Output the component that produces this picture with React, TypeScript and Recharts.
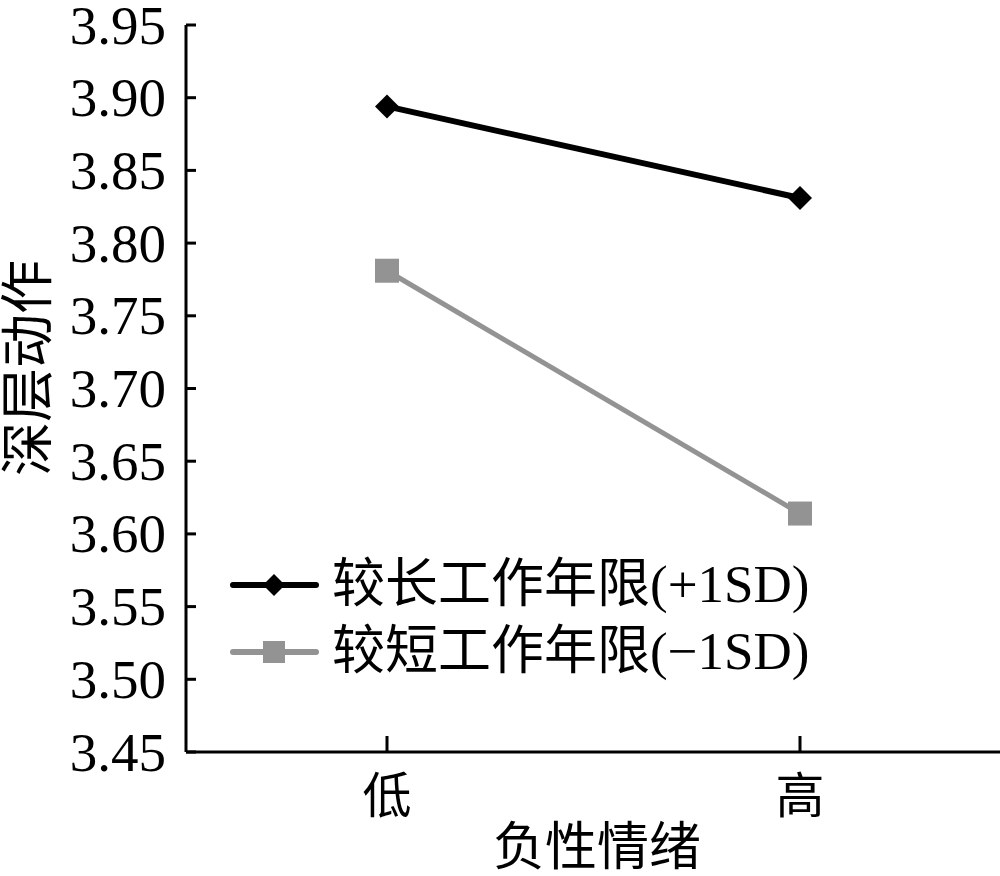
import { LineChart, Line, XAxis, YAxis, Legend } from "recharts";

const categories = ["低", "高"];
const longTenure = [3.894, 3.831];
const shortTenure = [3.781, 3.614];
const yTicks = [3.45, 3.5, 3.55, 3.6, 3.65, 3.7, 3.75, 3.8, 3.85, 3.9, 3.95];

const longName = "较长工作年限(+1SD)";
const shortName = "较短工作年限(−1SD)";

const data = categories.map((c, i) => ({
  cat: c,
  long: longTenure[i],
  short: shortTenure[i],
}));

const FONT = "'Liberation Serif', 'Noto Sans CJK SC', serif";
const GRAY = "#939393";

const YTick = (props: any) => {
  const { x, y, payload } = props;
  return (
    <g>
      <line x1={x} x2={x + 10} y1={y} y2={y} stroke="#000" strokeWidth={3} />
      <text x={x - 20} y={y} textAnchor="end" dominantBaseline="central" fontSize={55} fontFamily={FONT} fill="#000">
        {Number(payload.value).toFixed(2)}
      </text>
    </g>
  );
};

const XTick = (props: any) => {
  const { x, y, payload } = props;
  return (
    <g>
      <line x1={x} x2={x} y1={y} y2={y - 16} stroke="#000" strokeWidth={3} />
      <text x={x} y={y + 44} textAnchor="middle" dominantBaseline="central" fontSize={49} fontFamily={FONT} fill="#000">
        {payload.value}
      </text>
    </g>
  );
};

const Diamond = (props: any) => {
  const { cx, cy } = props;
  if (cx == null || cy == null) return null;
  const r = 12;
  return <polygon points={`${cx},${cy - r} ${cx + r},${cy} ${cx},${cy + r} ${cx - r},${cy}`} fill="#000" />;
};

const Square = (props: any) => {
  const { cx, cy } = props;
  if (cx == null || cy == null) return null;
  const s = 12;
  return <rect x={cx - s} y={cy - s} width={s * 2} height={s * 2} fill={GRAY} />;
};

const LegendBox = () => (
  <div style={{ fontFamily: FONT, fontSize: 53, lineHeight: "67px", color: "#000" }}>
    <div style={{ display: "flex", alignItems: "center" }}>
      <svg width={90} height={30}>
        <line x1={3} x2={86} y1={15} y2={15} stroke="#000" strokeWidth={6} strokeLinecap="round" />
        <polygon points="44,4 55,15 44,26 33,15" fill="#000" />
      </svg>
      <span style={{ marginLeft: 12 }}>{longName}</span>
    </div>
    <div style={{ display: "flex", alignItems: "center" }}>
      <svg width={90} height={30}>
        <line x1={3} x2={86} y1={15} y2={15} stroke={GRAY} strokeWidth={6} strokeLinecap="round" />
        <rect x={33} y={4} width={22} height={22} fill={GRAY} />
      </svg>
      <span style={{ marginLeft: 12 }}>{shortName}</span>
    </div>
  </div>
);

export default function App() {
  return (
    <div style={{ position: "absolute", left: 0, top: 0, background: "#fff" }}>
      <LineChart width={1000} height={876} data={data} margin={{ top: 25, right: 0, bottom: 0, left: 0 }}>
        <XAxis
          dataKey="cat"
          height={124}
          padding={{ left: 201, right: 200 }}
          axisLine={{ stroke: "#000", strokeWidth: 3 }}
          tickLine={false}
          tickSize={0}
          tickMargin={0}
          tick={<XTick />}
          label={{
            content: () => (
              <text x={597} y={847} textAnchor="middle" dominantBaseline="central" fontSize={52} fontFamily={FONT} fill="#000">
                负性情绪
              </text>
            ),
          }}
        />
        <YAxis
          width={186}
          domain={[3.45, 3.95]}
          ticks={yTicks}
          interval={0}
          axisLine={{ stroke: "#000", strokeWidth: 3 }}
          tickLine={false}
          tickSize={0}
          tickMargin={0}
          tick={<YTick />}
          label={{
            content: () => (
              <text x={29} y={368} transform="rotate(-90 29 368)" textAnchor="middle" dominantBaseline="central" fontSize={54} fontFamily={FONT} fill="#000">
                深层动作
              </text>
            ),
          }}
        />
        <Legend
          layout="horizontal"
          verticalAlign="middle"
          align="center"
          content={<LegendBox />}
          wrapperStyle={{ left: 230, top: 551, width: 680 }}
        />
        <Line
          type="linear"
          dataKey="long"
          name={longName}
          stroke="#000"
          strokeWidth={6}
          dot={<Diamond />}
          activeDot={false}
          isAnimationActive={false}
        />
        <Line
          type="linear"
          dataKey="short"
          name={shortName}
          stroke={GRAY}
          strokeWidth={5}
          dot={<Square />}
          activeDot={false}
          isAnimationActive={false}
        />
      </LineChart>
    </div>
  );
}
